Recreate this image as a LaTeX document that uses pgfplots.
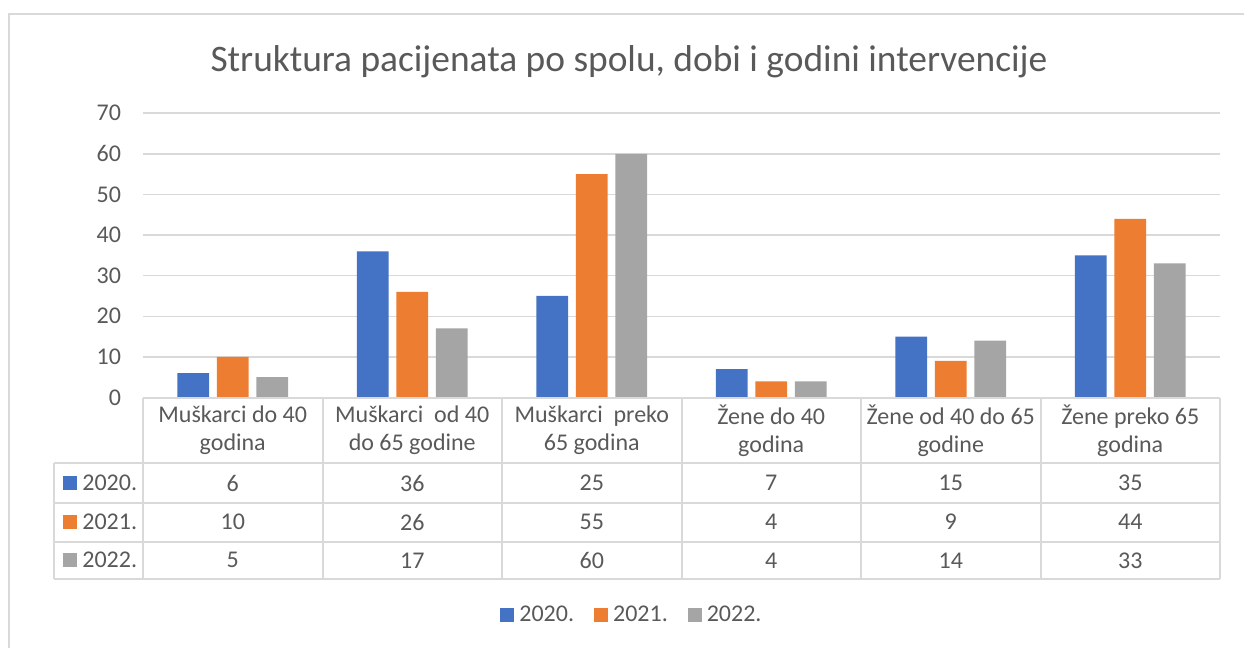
\documentclass[border=0pt]{standalone}
\usepackage{fontspec}
\setmainfont{Carlito}
\usepackage{pgfplots}
\pgfplotsset{compat=1.18}
\definecolor{c20}{HTML}{4472C4}
\definecolor{c21}{HTML}{ED7D31}
\definecolor{c22}{HTML}{A5A5A5}
\definecolor{txt}{HTML}{595959}
\definecolor{gridc}{HTML}{D9D9D9}

\begin{document}
\begin{tikzpicture}
\begin{axis}[
  at={(71.5pt,-198.75pt)}, anchor=south west,
  scale only axis, width=538.5pt, height=142.15pt,
  xmin=0, xmax=6, ymin=0, ymax=70,
  ytick={0,10,...,70},
  xtick={0.5,1.5,...,5.5},
  xticklabels={{Muškarci do 40\\godina},{Muškarci~ od 40\\do 65 godine},{Muškarci~ preko\\65 godina},{Žene do 40\\godina},{Žene od 40 do 65\\godine},{Žene preko 65\\godina}},
  xticklabel style={align=center, anchor=center, yshift=-16.5pt, font=\fontsize{12}{14}\selectfont, text=txt},
  yticklabel style={anchor=east, xshift=-7.5pt, font=\fontsize{12}{14}\selectfont, text=txt},
  /pgf/number format/assume math mode=true,
  axis line style={draw=none}, major tick length=0pt,
  ymajorgrids, grid style={gridc, line width=0.75pt},
  ybar, bar width=0.177,
  clip=false,
  legend style={at={(0.4554,-0.765)}, anchor=center, draw=none, fill=none,
    legend columns=3, font=\fontsize{12}{14}\selectfont, text=txt,
    /tikz/every even column/.append style={column sep=7.5pt},
    nodes={inner sep=2.5pt}},
  legend image code/.code={\fill[#1] (0pt,-3.5pt) rectangle (7pt,3.5pt);},
]
\addplot[fill=c20, draw=none, bar shift=-0.22] coordinates {(0.5,6) (1.5,36) (2.5,25) (3.5,7) (4.5,15) (5.5,35)};
\addplot[fill=c21, draw=none, bar shift=0] coordinates {(0.5,10) (1.5,26) (2.5,55) (3.5,4) (4.5,9) (5.5,44)};
\addplot[fill=c22, draw=none, bar shift=0.22] coordinates {(0.5,5) (1.5,17) (2.5,60) (3.5,4) (4.5,14) (5.5,33)};
\legend{2020.,2021.,2022.}
\end{axis}
\begin{scope}[x=0.5pt,y=-0.5pt]
\useasboundingbox (0,0) rectangle (1244,648);
\draw[gridc, line width=1pt] (9,648) -- (9,14) -- (1244,14);
\node[text=txt, font=\fontsize{18.7}{22}\selectfont, anchor=base] at (629,71) {Struktura pacijenata po spolu, dobi i godini intervencije};
% data table grid
\draw[gridc, line width=1pt] (143,398) -- (1220,398);
\foreach \yy in {463.3,502.7,541.7,579} \draw[gridc, line width=1pt] (54,\yy) -- (1220,\yy);
\draw[gridc, line width=1pt] (54,463.3) -- (54,579);
\foreach \xx in {143,322.5,502,681.5,861,1040.5,1220} \draw[gridc, line width=1pt] (\xx,398) -- (\xx,579);
% row keys
\fill[c20] (62.7,476) rectangle (76.7,490);
\fill[c21] (62.7,515.2) rectangle (76.7,529.2);
\fill[c22] (62.7,553.3) rectangle (76.7,567.3);
\foreach \yy/\lab in {483/2020.,522.2/2021.,560.3/2022.}
  \node[text=txt, font=\fontsize{12}{14}\selectfont, anchor=west, inner sep=0pt] at (82,\yy) {\lab};
% values
\foreach \xx/\a/\b/\c in {232.75/6/10/5,412.25/36/26/17,591.75/25/55/60,771.25/7/4/4,950.75/15/9/14,1130.25/35/44/33}{
  \node[text=txt, font=\fontsize{12}{14}\selectfont] at (\xx,483) {\a};
  \node[text=txt, font=\fontsize{12}{14}\selectfont] at (\xx,522.2) {\b};
  \node[text=txt, font=\fontsize{12}{14}\selectfont] at (\xx,560.3) {\c};
}
\end{scope}
\end{tikzpicture}
\end{document}
